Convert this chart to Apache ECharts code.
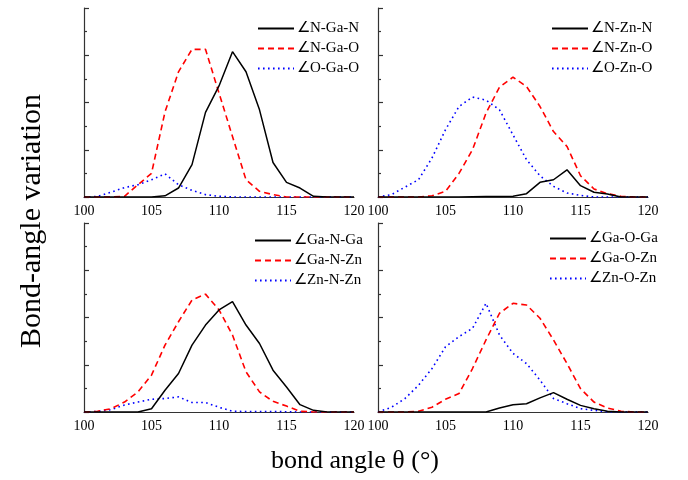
<!DOCTYPE html>
<html>
<head>
<meta charset="utf-8">
<script src="https://cdn.jsdelivr.net/npm/echarts@6/dist/echarts.min.js"></script>
<style>html,body{margin:0;padding:0;background:#fff}#c{width:688px;height:480px}</style>
</head>
<body>
<div id="c"></div>
<script>
// angles 100..120
var angles = [100,101,102,103,104,105,106,107,108,109,110,111,112,113,114,115,116,117,118,119,120];

// Panel 1 (Ga-centred)
var NGaN = [0,0,0,0,0,0,0.05,0.38,1.37,3.58,4.7,6.15,5.3,3.69,1.46,0.62,0.38,0.03,0,0,0];
var NGaO = [0,0,0,0.03,0.52,1.0,3.6,5.3,6.25,6.25,4.4,2.56,0.73,0.24,0.1,0,0,0,0,0,0];
var OGaO = [0,0.02,0.2,0.4,0.52,0.73,0.98,0.52,0.28,0.1,0.03,0,0,0,0,0,0,0,0,0,0];

// Panel 2 (Zn-centred)
var NZnN = [0,0,0,0,0,0,0,0.01,0.02,0.02,0.03,0.14,0.62,0.73,1.15,0.48,0.2,0.13,0,0,0];
var NZnO = [0,0,0,0,0.05,0.24,1.0,2.0,3.55,4.65,5.07,4.68,3.83,2.77,2.14,0.9,0.34,0.14,0.03,0,0];
var OZnO = [0,0.1,0.42,0.73,1.65,2.85,3.83,4.23,4.1,3.69,2.63,1.58,0.9,0.45,0.17,0.07,0,0,0,0,0];

// Panel 3 (N-centred)
var GaNGa = [0,0,0,0,0,0.14,0.92,1.63,2.83,3.68,4.32,4.67,3.68,2.9,1.77,1.06,0.31,0.07,0,0,0];
var GaNZn = [0,0.03,0.14,0.42,0.85,1.56,2.83,3.82,4.74,4.99,4.32,3.26,1.7,0.85,0.45,0.25,0.03,0,0,0,0];
var ZnNZn = [0,0.02,0.1,0.3,0.42,0.54,0.57,0.64,0.4,0.4,0.2,0.03,0.02,0.02,0.02,0.01,0,0,0,0,0];

// Panel 4 (O-centred)
var GaOGa = [0,0,0,0,0,0,0,0,0,0.17,0.31,0.35,0.6,0.82,0.54,0.28,0.14,0.03,0,0,0];
var GaOZn = [0,0,0,0.03,0.2,0.54,0.78,1.84,3.05,4.18,4.6,4.53,3.97,3.05,2.05,0.99,0.42,0.17,0.03,0,0];
var ZnOZn = [0,0.2,0.57,1.13,1.84,2.76,3.19,3.54,4.6,3.26,2.48,2.05,1.35,0.57,0.35,0.14,0.07,0,0,0,0];

var xTicks = [100,105,110,115,120];

var panels = [
  {names:['∠N-Ga-N','∠N-Ga-O','∠O-Ga-O'], data:[NGaN,NGaO,OGaO], legend:{left:257, top:21}},
  {names:['∠N-Zn-N','∠N-Zn-O','∠O-Zn-O'], data:[NZnN,NZnO,OZnO], legend:{left:551, top:21}},
  {names:['∠Ga-N-Ga','∠Ga-N-Zn','∠Zn-N-Zn'], data:[GaNGa,GaNZn,ZnNZn], legend:{left:254, top:233}},
  {names:['∠Ga-O-Ga','∠Ga-O-Zn','∠Zn-O-Zn'], data:[GaOGa,GaOZn,ZnOZn], legend:{left:549, top:231}}
];
var gridPos = [
  {left:84, top:8, width:270, height:189},
  {left:378, top:8, width:270, height:189},
  {left:84, top:223, width:270, height:189},
  {left:378, top:223, width:270, height:189}
];
var styles = [
  {color:'#000000', type:'solid', width:1.5},
  {color:'#ff0000', type:[6,4], width:1.6},
  {color:'#0000ff', type:[1.6,3.4], width:1.6}
];
var serif = 'Liberation Serif, Times New Roman, serif';

var grids=[], xAxes=[], yAxes=[], series=[], legends=[];
panels.forEach(function(p, i){
  grids.push(gridPos[i]);
  xAxes.push({
    type:'value', gridIndex:i, min:100, max:120, interval:5,
    axisLine:{lineStyle:{color:'#333', width:1.2}},
    axisTick:{show:false},
    splitLine:{show:false},
    axisLabel:{color:'#000', fontFamily:serif, fontSize:14, margin:7,
      formatter:function(v){return xTicks.indexOf(v)>=0 ? String(v) : '';}}
  });
  yAxes.push({
    type:'value', gridIndex:i, min:0, max:8, interval:2,
    axisLine:{show:true, lineStyle:{color:'#333', width:1.2}},
    axisTick:{show:true, inside:true, length:5, lineStyle:{color:'#333', width:1.2}},
    minorTick:{show:true, splitNumber:2, length:3, lineStyle:{color:'#333', width:1.2}},
    splitLine:{show:false},
    axisLabel:{show:false}
  });
  p.names.forEach(function(n, k){
    series.push({
      type:'line', name:n, xAxisIndex:i, yAxisIndex:i,
      data: angles.map(function(a, j){return [a, p.data[k][j]];}),
      symbol:'none', smooth:false,
      lineStyle:{color:styles[k].color, type:styles[k].type, width:styles[k].width},
      itemStyle:{color:styles[k].color},
      z: 3-k
    });
  });
  legends.push({
    data:p.names, orient:'vertical', left:p.legend.left, top:p.legend.top,
    itemWidth:36, itemHeight:14, itemGap:5, padding:0,
    selectedMode:false,
    itemStyle:{color:'rgba(0,0,0,0)', borderWidth:0, opacity:0},
    textStyle:{fontFamily:serif, fontSize:15, color:'#000', padding:[0,0,0,-2]}
  });
});

var chart = echarts.init(document.getElementById('c'), null, {renderer:'canvas'});
chart.setOption({
  animation:false,
  backgroundColor:'#fff',
  grid:grids, xAxis:xAxes, yAxis:yAxes, series:series, legend:legends,
  graphic:[
    {type:'text', left:271, top:448, style:{text:'bond angle θ (°)', font:'26px ' + serif, fill:'#000'}},
    {type:'text', x:17, y:348, rotation:Math.PI/2, style:{text:'Bond-angle variation', font:'30px ' + serif, fill:'#000'}}
  ]
});
</script>
</body>
</html>
